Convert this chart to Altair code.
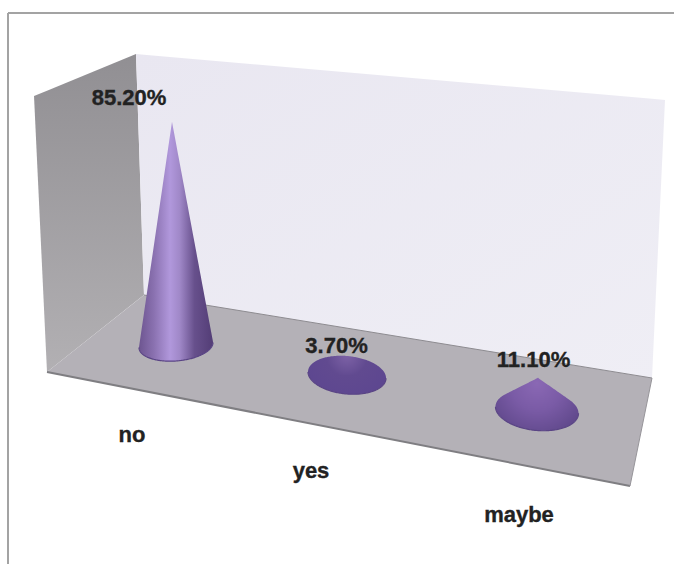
import numpy as np
import pandas as pd
import altair as alt

# Survey answers and their shares in percent
categories = ["no", "yes", "maybe"]
shares = [85.2, 3.7, 11.1]
share_labels = ["85.20%", "3.70%", "11.10%"]

# Scene layout, in canvas units
W, H = 674, 564
left_wall = [(34, 96), (136, 54), (144, 295), (47, 372)]
back_wall = [(136, 54), (665, 100), (652, 378), (144, 295)]
floor = [(144, 295), (652, 378), (630, 486), (47, 372)]
cone_base = [(176, 345, 37, 16), (347, 375, 39, 19), (537, 410, 41.5, 20.5)]
cone_tilt = [-0.07, 0.08, 0.08]
cone_lean = [-4, 0, 1]
units_per_percent = [2.62, 2.7, 2.9]
share_label_pos = [(129, 98), (336.5, 346), (533.5, 360)]
category_label_pos = [(132, 442), (311, 478), (519, 522)]

x_scale = alt.Scale(domain=[0, W], nice=False, zero=False)
y_scale = alt.Scale(domain=[H, 0], nice=False, zero=False)
X = alt.X("x:Q", scale=x_scale, axis=None)
Y = alt.Y("y:Q", scale=y_scale, axis=None)


def polygon_frame(points):
    """Upper and lower outline of a convex polygon, as columns for an area mark."""
    closed = points + points[:1]
    rows = []
    for px in sorted({p[0] for p in points}):
        hits = []
        for (x0, y0), (x1, y1) in zip(closed, closed[1:]):
            if min(x0, x1) <= px <= max(x0, x1):
                if x0 == x1:
                    hits += [y0, y1]
                else:
                    hits.append(y0 + (y1 - y0) * (px - x0) / (x1 - x0))
        rows.append({"x": px, "y": min(hits), "y2": max(hits)})
    return pd.DataFrame(rows)


def linear(stops, x1=0, y1=0, x2=0, y2=1):
    return alt.LinearGradient(
        gradient="linear", x1=x1, y1=y1, x2=x2, y2=y2,
        stops=[alt.GradientStop(offset=o, color=c) for o, c in stops],
    )


def radial(stops, cx, cy, r):
    return alt.RadialGradient(
        gradient="radial", x1=cx, y1=cy, r1=0, x2=cx, y2=cy, r2=r,
        stops=[alt.GradientStop(offset=o, color=c) for o, c in stops],
    )


def surface(points, fill):
    return alt.Chart(polygon_frame(points)).mark_area(fill=fill, stroke=None).encode(
        x=X, y=Y, y2="y2:Q"
    )


def edge(p, q, color, width):
    frame = pd.DataFrame({"x": [p[0], q[0]], "y": [p[1], q[1]]})
    return alt.Chart(frame).mark_line(color=color, strokeWidth=width).encode(x=X, y=Y)


def cone_frame(cx, cy, a, b, height, tilt, lean):
    """Silhouette of a cone standing on a slightly tilted elliptical base."""
    xs = cx + a * np.cos(np.linspace(np.pi, 0, 121))
    apex_x = cx + lean
    has_flanks = height > b
    if has_flanks:
        half = a * np.sqrt(1 - (b / height) ** 2)
        xs = np.sort(np.concatenate([xs, [cx - half, apex_x, cx + half]]))
    arc = b * np.sqrt(np.clip(1 - ((xs - cx) / a) ** 2, 0, 1))
    slant = tilt * (xs - cx)
    upper = cy - arc + slant
    lower = cy + arc + slant
    if has_flanks:
        # Straight flanks run from the apex to the tangent points of the base
        tangent_y = cy - b * b / height
        apex_y = cy - height
        left_x, left_y = cx - half, tangent_y - tilt * half
        right_x, right_y = cx + half, tangent_y + tilt * half
        left = (xs >= left_x) & (xs <= apex_x)
        right = (xs > apex_x) & (xs <= right_x)
        upper[left] = apex_y + (left_y - apex_y) * (apex_x - xs[left]) / (apex_x - left_x)
        upper[right] = apex_y + (right_y - apex_y) * (xs[right] - apex_x) / (right_x - apex_x)
    return pd.DataFrame({"x": xs, "y": upper, "y2": lower})


# Fill of each cone: tall cones shade across, flat ones shade outward from the tip
cone_fills = [
    linear([(0, "#6d5590"), (0.2, "#8a71b0"), (0.42, "#b198dc"), (0.55, "#a088c8"),
            (0.75, "#67508c"), (1, "#533d76")], x1=0, y1=0, x2=1, y2=0),
    radial([(0, "#7d62a6"), (0.35, "#614a90"), (1, "#5b4590")], 0.5, 0.25, 0.75),
    radial([(0, "#8a68b4"), (0.4, "#7a5ba6"), (1, "#54407f")], 0.5, 0.25, 0.8),
]

layers = [
    surface(left_wall, linear([(0, "#918f93"), (1, "#b2b0b3")])),
    surface(back_wall, linear([(0, "#e9e7f1"), (1, "#efeef5")], x2=1, y2=1)),
    surface(floor, "#b4b1b7"),
    edge(floor[0], floor[1], "#8d8b90", 1),
    edge(floor[3], floor[2], "#7f7e82", 2),
    edge(floor[1], floor[2], "#97959a", 1),
]

for (cx, cy, a, b), share, unit, fill, tilt, lean in zip(
    cone_base, shares, units_per_percent, cone_fills, cone_tilt, cone_lean
):
    frame = cone_frame(cx, cy, a, b, share * unit, tilt, lean)
    layers.append(alt.Chart(frame).mark_area(fill=fill, stroke=None).encode(x=X, y=Y, y2="y2:Q"))
    layers.append(
        alt.Chart(frame).mark_line(color="#5a4585", strokeWidth=1.2).encode(
            x=X, y=alt.Y("y2:Q", scale=y_scale, axis=None)
        )
    )

# Chart frame along the top and left edges
layers.append(edge((8, 13), (W, 13), "#a3a3a3", 2))
layers.append(edge((8, 13), (8, H), "#a3a3a3", 2))

font = dict(font="Liberation Sans", fontWeight="bold", fontSize=22, color="#222222",
            stroke="#222222", strokeWidth=0.35)

share_frame = pd.DataFrame({
    "x": [p[0] for p in share_label_pos],
    "y": [p[1] for p in share_label_pos],
    "label": share_labels,
})
layers.append(
    alt.Chart(share_frame).mark_text(baseline="middle", align="center", **font).encode(
        x=X, y=Y, text="label:N"
    )
)

category_frame = pd.DataFrame({
    "x": [p[0] for p in category_label_pos],
    "y": [p[1] for p in category_label_pos],
    "label": categories,
})
layers.append(
    alt.Chart(category_frame).mark_text(baseline="alphabetic", align="center", **font).encode(
        x=X, y=Y, text="label:N"
    )
)

chart = (
    alt.layer(*layers)
    .properties(width=W, height=H, padding=0, autosize=alt.AutoSizeParams(type="none"), background="white")
    .configure_view(stroke=None)
)

chart.save("out.html", embed_options={"renderer": "svg", "actions": False})
